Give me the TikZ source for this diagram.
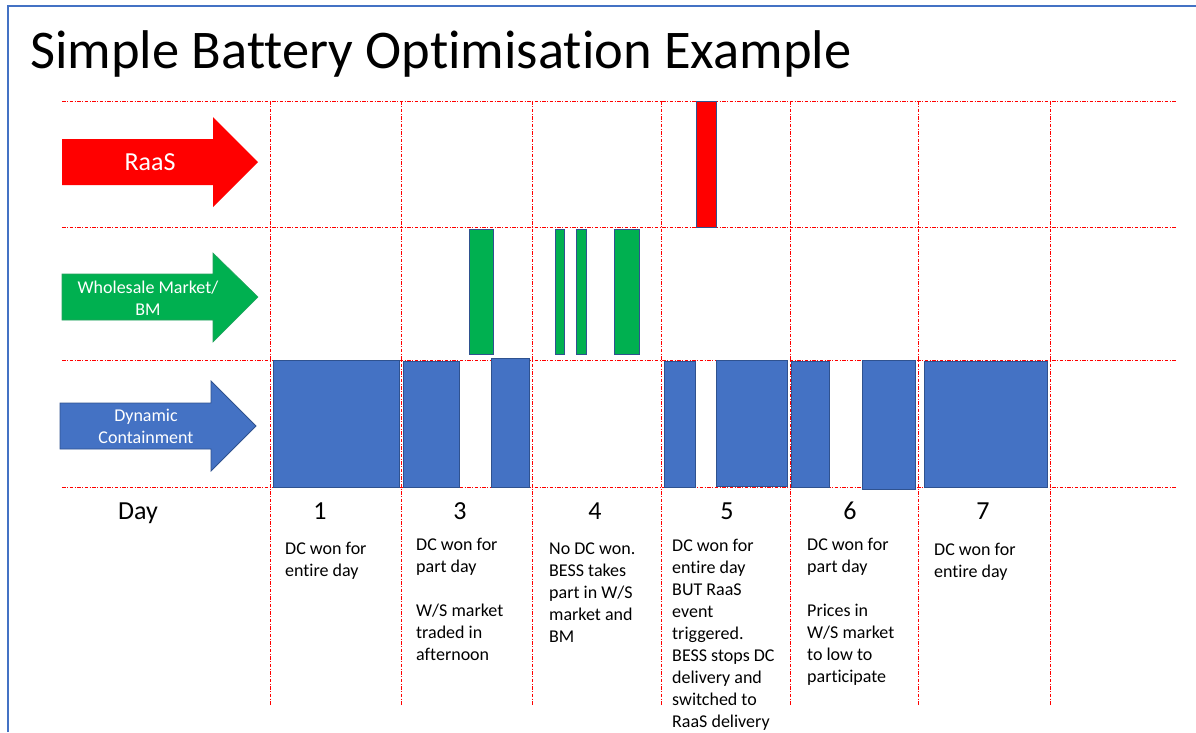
\documentclass[tikz,border=0pt]{standalone}
\usepackage{fontspec}
\setmainfont{Carlito}[Ligatures=NoCommon]
\definecolor{rred}{HTML}{FF0000}
\definecolor{wgreen}{HTML}{00B050}
\definecolor{dcblue}{HTML}{4472C4}
\definecolor{dkblue}{HTML}{2F528F}
\begin{document}
\begin{tikzpicture}[x=1pt,y=-1pt,
  grid/.style={draw=rred, line width=0.9pt, dash pattern=on 3.5pt off 1.5pt on 1pt off 1.5pt},
  bar/.style={draw=dkblue, line width=0.8pt},
  desc/.style={anchor=base west, inner sep=0pt, font=\fontsize{18}{22}\selectfont},
  daynum/.style={anchor=base, inner sep=0pt, font=\fontsize{26}{30}\selectfont},
  arrowtext/.style={text=white, inner sep=0pt, align=center, font=\fontsize{18}{22}\selectfont}]
\useasboundingbox (0,0) rectangle (1196,732);
% frame
\draw[dcblue, line width=2pt] (7.5,732) -- (7.5,6) -- (1196,6);
% title
\node[anchor=base west, inner sep=0pt, font=\fontsize{54.5}{60}\selectfont] (title) at (30,68) {Simple Battery Optimisation Example};
% grid
\foreach \yy in {101,227,360,487} \draw[grid] (62,\yy) -- (1177,\yy);
\foreach \xx in {270,401,532,661,790,918,1050} \draw[grid] (\xx,101) -- (\xx,705);
% arrows
\fill[rred] (62,139) -- (213,139) -- (213,117) -- (258,162) -- (213,207) -- (213,185) -- (62,185) -- cycle;
\node[arrowtext, font=\fontsize{26}{30}\selectfont] (raas) at (150,162) {RaaS};
\filldraw[fill=wgreen, draw=wgreen!70!gray, line width=0.6pt] (62,274) -- (213,274) -- (213,253) -- (258,297) -- (213,342) -- (213,320) -- (62,320) -- cycle;
\node[arrowtext] (wm) at (148,298) {Wholesale Market/\\BM};
\filldraw[fill=dcblue, draw=dkblue, line width=0.8pt] (60,403) -- (211,403) -- (211,381) -- (256,426) -- (211,471) -- (211,449) -- (60,449) -- cycle;
\node[arrowtext] (dc) at (146,426) {Dynamic\\Containment};
% red bar
\filldraw[bar, fill=rred] (696,101) rectangle (716,227);
% green bars
\foreach \a/\b in {469/493,555/564,576/586,614/639}
  \filldraw[bar, fill=wgreen] (\a,229) rectangle (\b,354);
% blue bars
\foreach \a/\b/\c/\d in {273/360/399/487, 403/361/459/487, 491/358/529/487, 664/361/695/487, 716/360/787/486, 791/361/829/487, 862/360/915/489, 924/361/1047/487}
  \filldraw[bar, fill=dcblue] (\a,\b) rectangle (\c,\d);
% day labels
\node[daynum] (day) at (138,519) {Day};
\foreach \n/\xx in {1/320,3/460,4/595,5/727,6/850,7/983}
  \node[daynum] (n\n) at (\xx,519) {\n};
% descriptions
\foreach \t [count=\i] in {DC won for,entire day}
  \node[desc] (da\i) at (285,{554+22*(\i-1)}) {\t};
\foreach \t [count=\i] in {DC won for,part day,{},W/S market,traded in,afternoon}
  \node[desc] (db\i) at (416,{550+22*(\i-1)}) {\t};
\foreach \t [count=\i] in {No DC won.,BESS takes,part in W/S,market and,BM}
  \node[desc] (dd\i) at (549,{554+22*(\i-1)}) {\t};
\foreach \t [count=\i] in {DC won for,entire day,BUT RaaS,event,triggered.,BESS stops DC,delivery and,switched to,RaaS delivery}
  \node[desc] (de\i) at (672,{551+22*(\i-1)}) {\t};
\foreach \t [count=\i] in {DC won for,part day,{},Prices in,W/S market,to low to,participate}
  \node[desc] (df\i) at (807,{550+22*(\i-1)}) {\t};
\foreach \t [count=\i] in {DC won for,entire day}
  \node[desc] (dg\i) at (934,{555+22*(\i-1)}) {\t};
\end{tikzpicture}
\end{document}
